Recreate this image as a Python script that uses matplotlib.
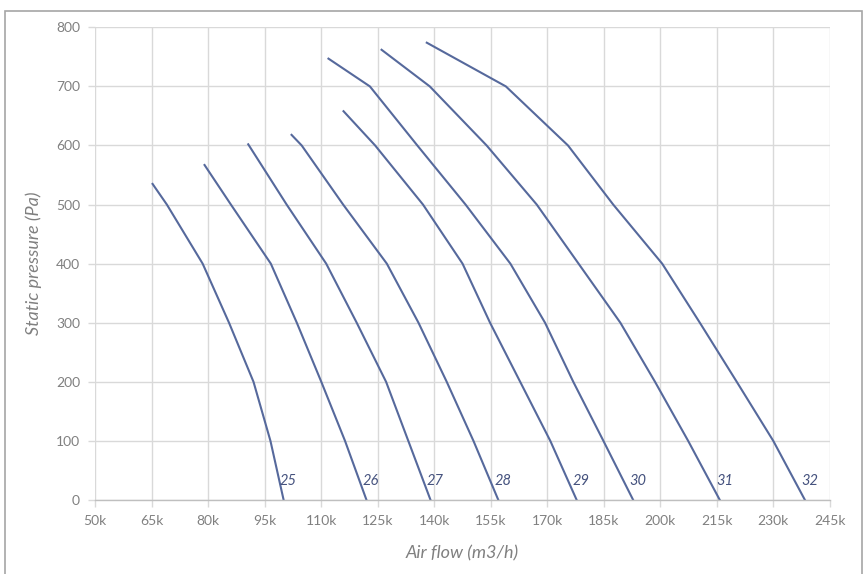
import matplotlib
matplotlib.use('Agg')
import matplotlib.pyplot as plt
from matplotlib.patches import Rectangle

plt.rcParams['font.family'] = ['Lato', 'DejaVu Sans']

# fan curves, air flow in k m3/h, static pressure in Pa
labels = ['25', '26', '27', '28', '29', '30', '31', '32']

flow_25 = [65.2, 69, 78.5, 85.5, 92, 96.5, 100]
pres_25 = [535, 500, 400, 300, 200, 100, 0]
flow_26 = [79, 86, 96.6, 103.5, 110, 116.3, 122]
pres_26 = [567, 500, 400, 300, 200, 100, 0]
flow_27 = [90.6, 100.8, 111.3, 119.4, 127.2, 133.1, 139]
pres_27 = [602, 500, 400, 300, 200, 100, 0]
flow_28 = [102.1, 104.8, 115.8, 127.4, 135.8, 143.3, 150.4, 157]
pres_28 = [618, 600, 500, 400, 300, 200, 100, 0]
flow_29 = [115.9, 124.3, 137, 147.5, 154.8, 162.8, 170.8, 177.8]
pres_29 = [658, 600, 500, 400, 300, 200, 100, 0]
flow_30 = [111.9, 122.9, 135.5, 148.3, 160.2, 169.4, 176.9, 184.9, 192.8]
pres_30 = [747, 700, 600, 500, 400, 300, 200, 100, 0]
flow_31 = [126, 138.8, 153.9, 167.2, 178.3, 189.4, 198.6, 207.4, 215.8]
pres_31 = [762, 700, 600, 500, 400, 300, 200, 100, 0]
flow_32 = [138, 159, 175.5, 187.5, 200.5, 210.5, 220.3, 230, 238.4]
pres_32 = [774, 700, 600, 500, 400, 300, 200, 100, 0]

flows = [flow_25, flow_26, flow_27, flow_28, flow_29, flow_30, flow_31, flow_32]
pressures = [pres_25, pres_26, pres_27, pres_28, pres_29, pres_30, pres_31, pres_32]

xticks = [50, 65, 80, 95, 110, 125, 140, 155, 170, 185, 200, 215, 230, 245]
yticks = [0, 100, 200, 300, 400, 500, 600, 700, 800]

line_col = '#56699c'
text_col = '#808080'
grid_col = '#d9d9d9'

fig = plt.figure(figsize=(8.68, 5.74), dpi=100)
ax = fig.add_axes([0.1098, 0.1289, 0.8462, 0.8235])

# outer frame of the chart
fig.patches.append(Rectangle((5/868, -0.05), 857/868, 1.05 - 11/574,
                             transform=fig.transFigure, fill=False,
                             edgecolor='#a6a6a6', linewidth=1.2))

for f, p, lab in zip(flows, pressures, labels):
    ax.plot(f, p, color=line_col, linewidth=1.5, solid_joinstyle='round')
    ax.text(f[-1] - 1.0, 32, lab, fontsize=10.5, style='italic',
            color='#45527e', ha='left', va='center')

ax.set_xlim(50, 245)
ax.set_ylim(0, 800)
ax.set_xticks(xticks)
ax.set_xticklabels([str(t) + 'k' for t in xticks])
ax.set_yticks(yticks)
ax.grid(True, color=grid_col, linewidth=1)
ax.set_axisbelow(True)

for s in ['top', 'right', 'left']:
    ax.spines[s].set_visible(False)
ax.spines['bottom'].set_color('#bfbfbf')
ax.spines['bottom'].set_linewidth(1)

ax.tick_params(axis='both', direction='out', length=5, width=1,
               color=grid_col, labelcolor=text_col, labelsize=10)
ax.tick_params(axis='x', pad=6)
ax.tick_params(axis='y', pad=6)

ax.set_xlabel('Air flow (m3/h)', fontsize=13, style='italic', color=text_col,
              labelpad=13)
ax.set_ylabel('Static pressure (Pa)', fontsize=13, style='italic',
              color=text_col, labelpad=10)

fig.savefig('out.png', dpi=100)
